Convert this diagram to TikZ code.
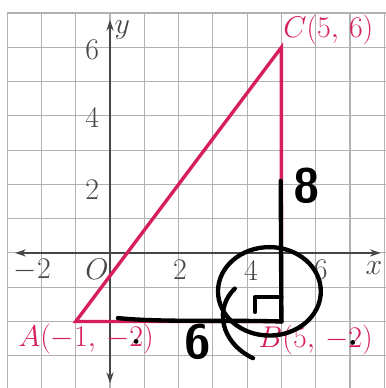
\documentclass[tikz,border=0pt]{standalone}
\usepackage{xcolor}
\usepackage{tikz}
\usetikzlibrary{arrows.meta, positioning, calc}
\definecolor{penred}{RGB}{214,30,90}
\definecolor{gridgray}{RGB}{178,178,178}

\begin{document}
\begin{tikzpicture}[
    gridline/.style={draw=gridgray, line width=0.9pt},
    axis/.style={draw=black!72, line width=1.1pt, {Stealth[length=9pt,width=6pt]}-{Stealth[length=9pt,width=6pt]}},
    side/.style={draw=penred, line width=2.8pt, line join=miter},
    tick/.style={inner sep=0pt, font=\fontsize{26}{30}\selectfont, text=black!72},
    vertex/.style={inner sep=0pt, font=\fontsize{26}{30}\selectfont, text=penred},
    ink/.style={draw=black, line width=3.6pt, line cap=round, line join=round},
    hand/.style={inner sep=0pt, font=\fontsize{40}{46}\selectfont\sffamily\bfseries},
]
\useasboundingbox (-3.21,-3.94) rectangle (8.05,7.38);

% Grid
\draw[gridline] (-3,-3.94) grid (8.05,7);

% Axes
\draw[axis] (-2.77,0) -- (7.9,0);
\draw[axis] (0,-3.8) -- (0,6.8);
\node[tick] (xlab) at (7.7,-0.45) {$x$};
\node[tick] (ylab) at (0.36,6.5) {$y$};
\node[tick] (orig) at (-0.38,-0.49) {$O$};
\node[tick] (xm2) at (-2.27,-0.49) {$-2$};
\node[tick] (x2) at (2.04,-0.49) {$2$};
\node[tick] (x4) at (4.11,-0.52) {$4$};
\node[tick] (x6) at (6.15,-0.5) {$6$};
\node[tick] (y2) at (-0.52,1.85) {$2$};
\node[tick] (y4) at (-0.52,3.94) {$4$};
\node[tick] (y6) at (-0.52,5.92) {$6$};

% Triangle
\coordinate (A) at (-1,-2);
\coordinate (B) at (5,-2);
\coordinate (C) at (5,6);
\draw[side] (A) -- (B) -- (C) -- cycle;
\node[vertex] (labA) at (-0.7,-2.5) {$A(-1,\,-2)$};
\node[vertex] (labB) at (6.0,-2.55) {$B(5,\,-2)$};
\node[vertex, anchor=west] (labC) at (5.05,6.5) {$C(5,\,6)$};

% Handwriting
\draw[ink] (4.98,2.1) -- (5.0,-2.0);
\draw[ink] (0.23,-1.9) .. controls (1.5,-2.03) and (3.5,-1.95) .. (5.0,-2.0);
\draw[ink] (4.23,-1.72) -- (4.23,-1.28) -- (5.0,-1.28);
\draw[ink] (4.65,-1.12) ellipse [x radius=1.5, y radius=1.29];
\draw[ink] (3.64,-1.04) .. controls (3.05,-1.6) and (3.2,-2.6) .. (4.17,-3.07);
\node[hand] (eight) at (5.75,1.97) {8};
\node[hand] (six) at (2.55,-2.58) {6};
\fill (0.76,-2.58) circle (0.07);
\fill (7.08,-2.61) circle (0.07);

\end{tikzpicture}
\end{document}
